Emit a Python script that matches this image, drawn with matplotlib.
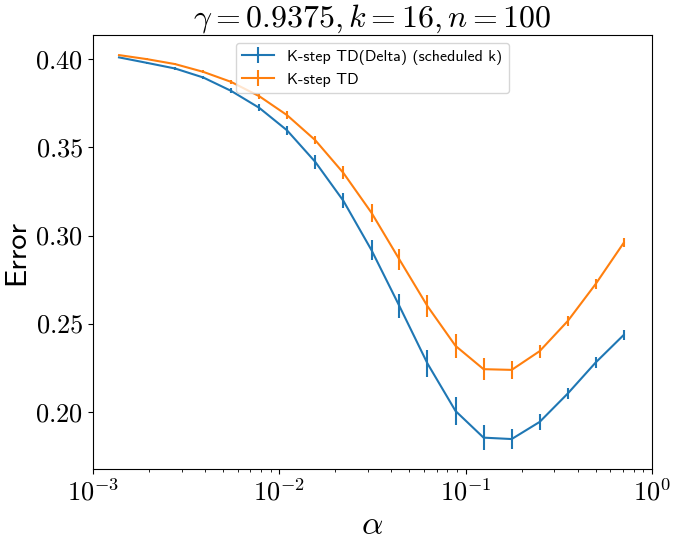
import matplotlib
matplotlib.use('Agg')
import matplotlib.pyplot as plt
from matplotlib.ticker import FuncFormatter, LogLocator
import numpy as np

plt.rcParams['mathtext.fontset'] = 'cm'
plt.rcParams['font.family'] = ['cmss10', 'DejaVu Sans']
plt.rcParams['axes.unicode_minus'] = False

# step sizes (alpha)
alphas = [0.00138, 0.00195, 0.00276, 0.00391, 0.00552, 0.00781, 0.0110, 0.0156,
          0.0221, 0.0313, 0.0442, 0.0625, 0.0884, 0.125, 0.177, 0.25, 0.354, 0.5, 0.707]

# K-step TD(Delta) (scheduled k)
err_delta = [0.4010, 0.3979, 0.3947, 0.3896, 0.3820, 0.3724, 0.3597, 0.3418, 0.3197,
             0.2917, 0.2600, 0.2275, 0.2006, 0.1855, 0.1847, 0.1944, 0.2105, 0.2281, 0.2437]
sd_delta = [0.0004, 0.0005, 0.0007, 0.0010, 0.0014, 0.0020, 0.0024, 0.0038, 0.0043,
            0.0058, 0.0069, 0.0078, 0.0078, 0.0069, 0.0055, 0.0043, 0.0031, 0.0030, 0.0028]

# K-step TD
err_td = [0.4023, 0.4000, 0.3972, 0.3928, 0.3871, 0.3790, 0.3683, 0.3541, 0.3355,
          0.3129, 0.2864, 0.2600, 0.2375, 0.2243, 0.2239, 0.2345, 0.2516, 0.2726, 0.2959]
sd_td = [0.0003, 0.0004, 0.0006, 0.0008, 0.0013, 0.0014, 0.0023, 0.0024, 0.0037,
         0.0051, 0.0061, 0.0064, 0.0066, 0.0061, 0.0050, 0.0036, 0.0028, 0.0030, 0.0026]

fig = plt.figure(figsize=(6.74, 5.41), dpi=100)
ax = fig.add_axes([0.138, 0.133, 0.829, 0.802])

ax.errorbar(alphas, err_delta, yerr=sd_delta, color='tab:blue',
            label='K-step TD(Delta) (scheduled k)')
ax.errorbar(alphas, err_td, yerr=sd_td, color='tab:orange', label='K-step TD')

ax.set_xscale('log')
ax.set_xlim(1e-3, 1)
ax.set_ylim(0.1677, 0.4136)
ax.set_yticks([0.20, 0.25, 0.30, 0.35, 0.40])
ax.yaxis.set_major_formatter(FuncFormatter(lambda v, p: r'$%.2f$' % v))
ax.xaxis.set_major_locator(LogLocator(base=10))
ax.xaxis.set_major_formatter(FuncFormatter(lambda v, p: r'$10^{%d}$' % round(np.log10(v))))
ax.tick_params(axis='both', which='major', labelsize=19)

ax.set_xlabel(r'$\alpha$', fontsize=24)
ax.set_ylabel('Error', fontsize=22)
ax.set_title(r'$\gamma=0.9375,k=16,n=100$', fontsize=23, pad=2)
ax.legend(loc='upper center', fontsize=11.5)

fig.savefig('out.png', dpi=100)
